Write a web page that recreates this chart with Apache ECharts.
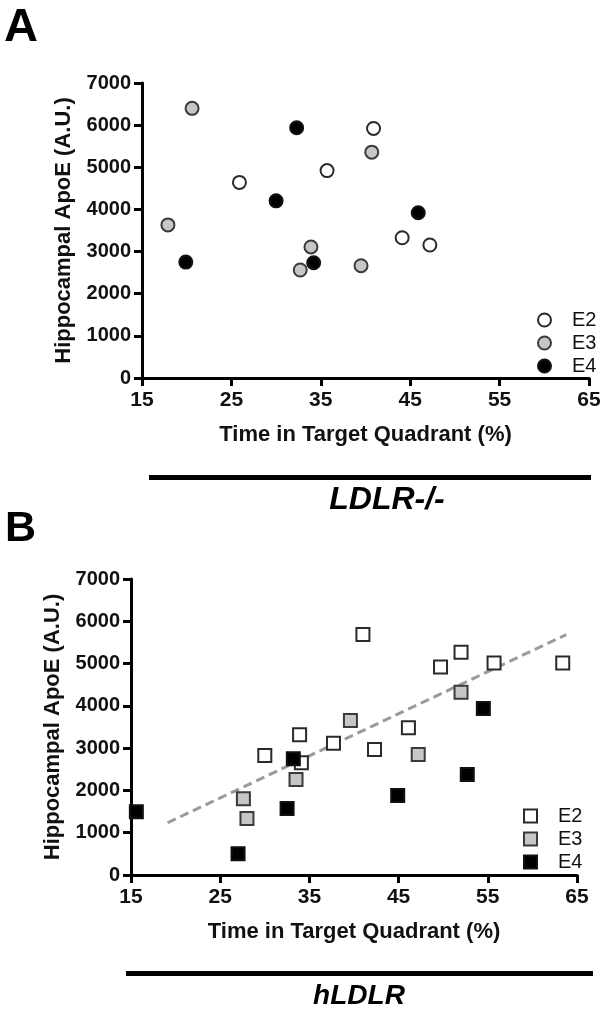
<!DOCTYPE html>
<html>
<head>
<meta charset="utf-8">
<script src="https://cdn.jsdelivr.net/npm/echarts@6/dist/echarts.min.js"></script>
<style>
html,body{margin:0;padding:0;background:#fff;}
#chart{width:612px;height:1012px;}
</style>
</head>
<body>
<div id="chart"></div>
<script>
// ---- Data ----
const seriesNames = ['E2', 'E3', 'E4'];
// Panel A (LDLR-/-): [time in target quadrant %, hippocampal ApoE]
const panelA_E2 = [[40.9, 5922], [35.7, 4922], [25.9, 4641], [44.1, 3328], [47.2, 3156]];
const panelA_E3 = [[20.6, 6398], [40.7, 5359], [17.9, 3633], [33.9, 3109], [39.5, 2664], [32.7, 2563]];
const panelA_E4 = [[32.3, 5938], [30.0, 4203], [45.9, 3922], [19.9, 2750], [34.2, 2734]];
// Panel B (hLDLR)
const panelB_E2 = [[41.0, 5685], [52.0, 5268], [49.7, 4921], [55.7, 5016], [63.4, 5016], [46.1, 3480],
                   [33.9, 3315], [37.7, 3118], [42.3, 2969], [30.0, 2827], [34.1, 2654]];
const panelB_E3 = [[52.0, 4323], [39.6, 3654], [47.2, 2850], [33.5, 2260], [27.6, 1803], [28.0, 1339]];
const panelB_E4 = [[54.5, 3937], [33.2, 2748], [52.7, 2378], [44.9, 1882], [32.5, 1575], [15.6, 1496], [27.0, 500]];
// Regression line endpoints for panel B
const panelB_trend = [[19.1, 1236], [63.8, 5685]];
// Axis ranges
const xRange = {min: 15, max: 65, interval: 10};
const yRange = {min: 0, max: 7000, interval: 1000};
const xTitle = 'Time in Target Quadrant (%)';
const yTitle = 'Hippocampal ApoE (A.U.)';
const panelLetters = ['A', 'B'];
const groupLabels = ['LDLR-/-', 'hLDLR'];

// ---- Styling ----
const FONT = '"Liberation Sans", Arial, sans-serif';
const fills = {E2: '#ffffff', E3: '#c6c6c6', E4: '#000000'};
const borders = {E2: '#2a2a2a', E3: '#3a3a3a', E4: '#111111'};

function xAxis(gridIndex) {
  return {
    type: 'value', gridIndex: gridIndex,
    min: xRange.min, max: xRange.max, interval: xRange.interval,
    name: xTitle, nameLocation: 'middle', nameGap: 46,
    nameTextStyle: {fontFamily: FONT, fontWeight: 'bold', fontSize: 22, color: '#111'},
    axisLine: {show: true, onZero: false, lineStyle: {color: '#000', width: 3}},
    axisTick: {show: true, length: 8, lineStyle: {color: '#000', width: 3}},
    axisLabel: {fontFamily: FONT, fontWeight: 'bold', fontSize: 21, color: '#111', margin: 12,
                formatter: v => String(v)},
    splitLine: {show: false}
  };
}
function yAxis(gridIndex) {
  return {
    type: 'value', gridIndex: gridIndex,
    min: yRange.min, max: yRange.max, interval: yRange.interval,
    name: yTitle, nameLocation: 'middle', nameGap: 67, nameRotate: 90,
    nameTextStyle: {fontFamily: FONT, fontWeight: 'bold', fontSize: 22, color: '#111'},
    axisLine: {show: true, onZero: false, lineStyle: {color: '#000', width: 3}},
    axisTick: {show: true, length: 8, lineStyle: {color: '#000', width: 3}},
    axisLabel: {fontFamily: FONT, fontWeight: 'bold', fontSize: 20, color: '#111', margin: 11,
                formatter: v => String(v)},
    splitLine: {show: false}
  };
}
function scatter(name, data, gridIdx, symbol, key) {
  return {
    type: 'scatter', name: name, data: data,
    xAxisIndex: gridIdx, yAxisIndex: gridIdx,
    symbol: symbol, symbolSize: 13,
    itemStyle: {color: fills[key], borderColor: borders[key], borderWidth: 2, opacity: 1},
    emphasis: {disabled: true}, z: 3
  };
}
function legend(idx, left, top, names) {
  return {
    data: names, orient: 'vertical', left: left, top: top,
    itemWidth: 13, itemHeight: 13, itemGap: 3, selectedMode: false,
    formatter: n => n.replace('B-', ''),
    textStyle: {fontFamily: FONT, fontSize: 20, color: '#111', lineHeight: 19, padding: [0, 0, 0, 16]}
  };
}

const chart = echarts.init(document.getElementById('chart'), null, {renderer: 'canvas'});
const option = {
  backgroundColor: '#fff',
  animation: false,
  grid: [
    {left: 142, right: 23, top: 83, height: 295, containLabel: false},
    {left: 131, right: 35, top: 579, height: 296, containLabel: false}
  ],
  xAxis: [xAxis(0), xAxis(1)],
  yAxis: [yAxis(0), yAxis(1)],
  legend: [
    legend(0, 532, 305, seriesNames),
    legend(1, 518, 801, seriesNames.map(n => 'B-' + n))
  ],
  series: [
    scatter('E2', panelA_E2, 0, 'circle', 'E2'),
    scatter('E3', panelA_E3, 0, 'circle', 'E3'),
    scatter('E4', panelA_E4, 0, 'circle', 'E4'),
    {
      type: 'line', name: 'trend', data: panelB_trend, xAxisIndex: 1, yAxisIndex: 1,
      symbol: 'none', silent: true, z: 2,
      lineStyle: {color: '#9a9a9a', width: 3, type: [9, 5]}
    },
    scatter('B-E2', panelB_E2, 1, 'rect', 'E2'),
    scatter('B-E3', panelB_E3, 1, 'rect', 'E3'),
    scatter('B-E4', panelB_E4, 1, 'rect', 'E4')
  ],
  graphic: [
    {type: 'text', left: 4, top: 5, style: {text: panelLetters[0], font: 'bold 47px ' + FONT, fill: '#000'}},
    {type: 'text', left: 5, top: 508, style: {text: panelLetters[1], font: 'bold 43px ' + FONT, fill: '#000'}},
    {type: 'rect', shape: {x: 149, y: 475, width: 442, height: 5}, style: {fill: '#000'}},
    {type: 'text', x: 387, y: 500, style: {text: groupLabels[0], font: 'italic bold 32px ' + FONT, fill: '#000', align: 'center', verticalAlign: 'middle'}},
    {type: 'rect', shape: {x: 126, y: 971, width: 467, height: 5}, style: {fill: '#000'}},
    {type: 'text', x: 359, y: 996, style: {text: groupLabels[1], font: 'italic bold 28px ' + FONT, fill: '#000', align: 'center', verticalAlign: 'middle'}}
  ]
};
chart.setOption(option);
</script>
</body>
</html>
